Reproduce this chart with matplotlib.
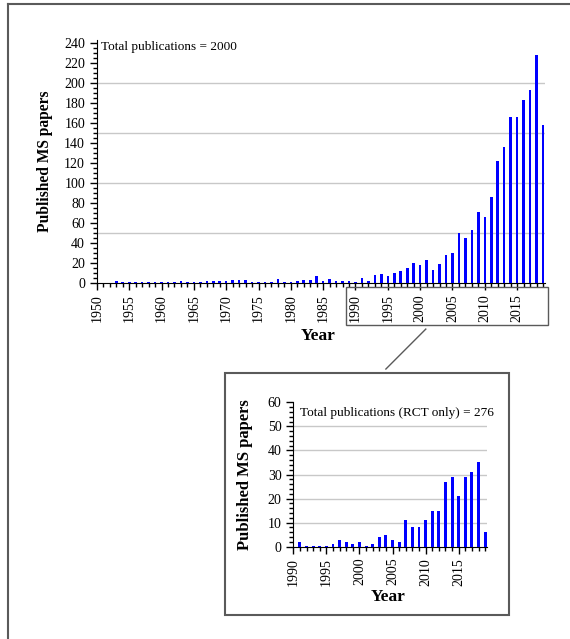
import numpy as np
import matplotlib.pyplot as plt
from matplotlib.patches import Rectangle
from matplotlib.lines import Line2D
from matplotlib.ticker import MultipleLocator

plt.rcParams['font.family'] = ['Liberation Serif', 'DejaVu Serif']

# All MS publications per year, 1950-2019
years = np.arange(1950, 2020)
papers = [0, 0, 0, 2, 1, 1, 1, 1, 1, 1,
          1, 1, 1, 2, 1, 1, 1, 2, 2, 2,
          2, 3, 3, 3, 1, 1, 1, 1, 4, 1,
          1, 2, 3, 3, 7, 2, 4, 2, 2, 2,
          1, 5, 2, 8, 9, 7, 10, 12, 15, 20,
          18, 23, 13, 19, 28, 30, 50, 45, 53, 71,
          66, 86, 122, 136, 166, 166, 183, 193, 228, 158]

# RCT only, 1990-2019
rct_years = np.arange(1990, 2020)
rct_papers = [0, 2, 0.5, 0.5, 0.5, 0.5, 1, 3, 2, 1,
              2, 0.5, 1, 4, 5, 3, 2, 11, 8, 8,
              11, 15, 15, 27, 29, 21, 29, 31, 35, 6]

blue = '#0000ff'
grid_c = '#c8c8c8'
frame_c = '#5a5a5a'

fig = plt.figure(figsize=(5.7, 6.39), dpi=100)

# outer frame (top and left only)
fig.add_artist(Line2D([0.0146, 1.0], [0.993, 0.993], transform=fig.transFigure, color=frame_c, lw=1.5))
fig.add_artist(Line2D([0.0146, 0.0146], [0.0, 0.993], transform=fig.transFigure, color=frame_c, lw=1.5))

# ---- main chart ----
ax = fig.add_axes([0.170, 0.557, 0.786, 0.380])
ax.bar(years, papers, width=0.4, color=blue, zorder=3)
for g in [50, 100, 150, 200]:
    ax.axhline(g, color=grid_c, lw=1, zorder=1)
ax.set_xlim(1950, 2019.3)
ax.set_ylim(0, 243)
ax.yaxis.set_major_locator(MultipleLocator(20))
ax.yaxis.set_minor_locator(MultipleLocator(5))
ax.xaxis.set_major_locator(MultipleLocator(5))
ax.xaxis.set_minor_locator(MultipleLocator(1))
ax.tick_params(axis='both', which='major', length=5, width=1, labelsize=10, direction='out')
ax.tick_params(axis='both', which='minor', length=3, width=1, direction='out')
ax.tick_params(axis='x', labelrotation=90, pad=3)
for s in ['top', 'right']:
    ax.spines[s].set_visible(False)
ax.set_ylabel('Published MS papers', fontsize=11.2, fontweight='bold')
ax.yaxis.set_label_coords(-0.099, 0.5)
ax.set_xlabel('Year', fontsize=12.5, fontweight='bold')
ax.xaxis.set_label_coords(0.493, -0.185)
ax.text(0.01, 0.995, 'Total publications = 2000', transform=ax.transAxes,
        fontsize=9.5, ha='left', va='top')

# box around 1990-2019 labels and connector
fig.add_artist(Rectangle((0.607, 0.4914), 0.354, 0.0595, transform=fig.transFigure,
                         fill=False, edgecolor=frame_c, lw=1))
fig.add_artist(Line2D([0.747, 0.677], [0.485, 0.4225], transform=fig.transFigure,
                      color=frame_c, lw=1))

# ---- inset (RCT only) ----
fig.add_artist(Rectangle((0.394, 0.0376), 0.4993, 0.379, transform=fig.transFigure,
                         fill=False, edgecolor=frame_c, lw=1.5))
ax2 = fig.add_axes([0.5146, 0.1444, 0.340, 0.226])
ax2.bar(rct_years, rct_papers, width=0.45, color=blue, zorder=3)
for g in [10, 20, 30, 40, 50]:
    ax2.axhline(g, color=grid_c, lw=1, zorder=1)
ax2.set_xlim(1990, 2019.3)
ax2.set_ylim(0, 60)
ax2.yaxis.set_major_locator(MultipleLocator(10))
ax2.yaxis.set_minor_locator(MultipleLocator(2))
ax2.xaxis.set_major_locator(MultipleLocator(5))
ax2.xaxis.set_minor_locator(MultipleLocator(1))
ax2.tick_params(axis='both', which='major', length=5, width=1, labelsize=10, direction='out')
ax2.tick_params(axis='both', which='minor', length=3, width=1, direction='out')
ax2.tick_params(axis='x', labelrotation=90, pad=3)
for s in ['top', 'right']:
    ax2.spines[s].set_visible(False)
ax2.set_ylabel('Published MS papers', fontsize=12, fontweight='bold')
ax2.yaxis.set_label_coords(-0.208, 0.5)
ax2.set_xlabel('Year', fontsize=12.5, fontweight='bold')
ax2.xaxis.set_label_coords(0.489, -0.295)
ax2.text(0.035, 0.926, 'Total publications (RCT only) = 276', transform=ax2.transAxes,
         fontsize=9.5, ha='left', va='center')

fig.savefig('out.png', dpi=100)
